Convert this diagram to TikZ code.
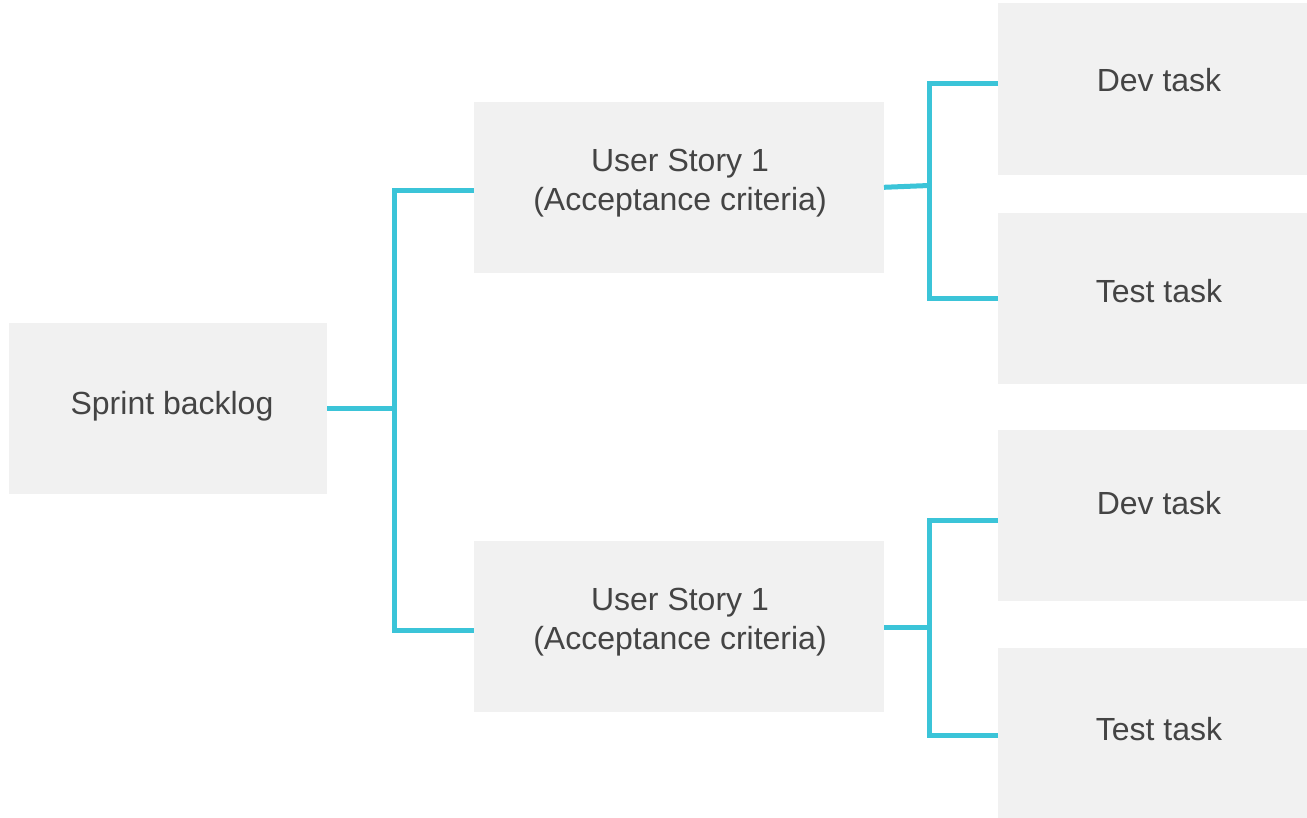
\documentclass[tikz,border=0pt]{standalone}
\usepackage{fontspec}
\setmainfont{Liberation Sans}
\definecolor{boxfill}{HTML}{F1F1F1}
\definecolor{linkc}{HTML}{3BC4D8}
\definecolor{txtc}{HTML}{444444}
\begin{document}
\begin{tikzpicture}[x=1pt,y=-1pt,
  box/.style={fill=boxfill, draw=none, inner sep=0pt, outer sep=0pt},
  txt/.style={anchor=base, text=txtc, font=\fontsize{32}{39}\selectfont, inner sep=0pt},
  link/.style={draw=linkc, line width=5pt}]
\useasboundingbox (0,0) rectangle (1307,818);
% boxes
\node[box, minimum width=318pt, minimum height=171pt] (sb) at (168,408.5) {};
\node[box, minimum width=410pt, minimum height=171pt] (us1) at (679,187.5) {};
\node[box, minimum width=410pt, minimum height=171pt] (us2) at (679,626.5) {};
\node[box, minimum width=309pt, minimum height=172pt] (dev1) at (1152.5,89.5) {};
\node[box, minimum width=309pt, minimum height=171pt] (test1) at (1152.5,298.5) {};
\node[box, minimum width=309pt, minimum height=171pt] (dev2) at (1152.5,515.5) {};
\node[box, minimum width=309pt, minimum height=170pt] (test2) at (1152.5,733) {};
% texts
\node[txt] (sbt) at (172,414.5) {Sprint backlog};
\node[txt] (us1a) at (680,171.5) {User Story 1};
\node[txt] (us1b) at (680,210.5) {(Acceptance criteria)};
\node[txt] (us2a) at (680,610.5) {User Story 1};
\node[txt] (us2b) at (680,649.5) {(Acceptance criteria)};
\node[txt] (dev1t) at (1159,91.7) {Dev task};
\node[txt] (test1t) at (1159,302.5) {Test task};
\node[txt] (dev2t) at (1159,514.5) {Dev task};
\node[txt] (test2t) at (1159,740.7) {Test task};
% connectors
\coordinate (j0) at (394,408);
\coordinate (j1) at (929,185.5);
\coordinate (j2) at (929,627);
\draw[link] (sb.east |- j0) -- (j0);
\draw[link] (us1.west |- 0,190.5) -| (394,408) |- (us2.west |- 0,630);
\draw[link] (us1.east |- 0,187.3) -- (j1);
\draw[link] (dev1.west |- 0,84) -| (929,185) |- (test1.west |- 0,298.5);
\draw[link] (us2.east |- j2) -- (j2);
\draw[link] (dev2.west |- 0,520.5) -| (929,627) |- (test2.west |- 0,735.3);
\end{tikzpicture}
\end{document}
